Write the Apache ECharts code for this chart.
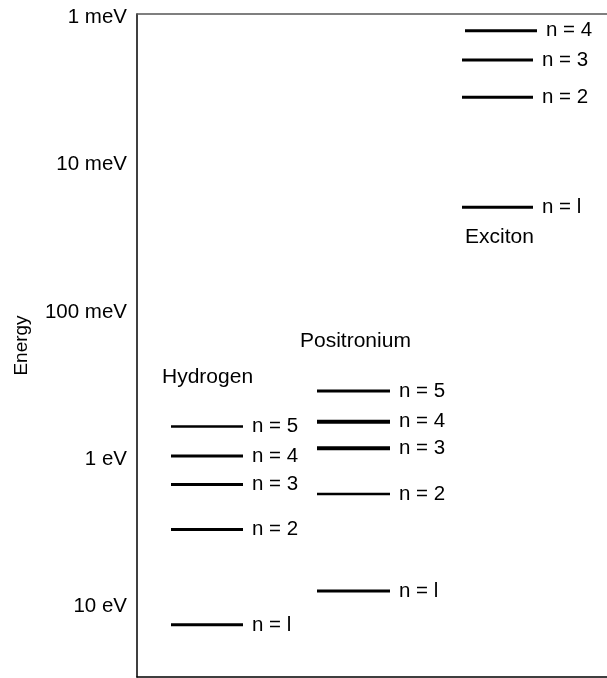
<!DOCTYPE html>
<html>
<head>
<meta charset="utf-8">
<script src="https://cdn.jsdelivr.net/npm/echarts@6/dist/echarts.min.js"></script>
<style>
html,body{margin:0;padding:0;background:#fff;}
#chart{width:607px;height:678px;}
</style>
</head>
<body>
<div id="chart"></div>
<script>
// Tick labels for the decades 1 meV .. 10 eV
const tickLabels = ['1 meV', '10 meV', '100 meV', '1 eV', '10 eV'];
const tickDecades = [-3, -2, -1, 0, 1];

// Energy levels (eV)
const hydrogenLabels = ['n = l', 'n = 2', 'n = 3', 'n = 4', 'n = 5'];
const hydrogenEnergy = [14.0, 3.15, 1.56, 1.00, 0.63];

const positroniumLabels = ['n = l', 'n = 2', 'n = 3', 'n = 4', 'n = 5'];
const positroniumEnergy = [8.25, 1.81, 0.887, 0.585, 0.362];

const excitonLabels = ['n = l', 'n = 2', 'n = 3', 'n = 4'];
const excitonEnergy = [0.0205, 0.00367, 0.00205, 0.0013];

// Layout (horizontal column placement, title placement, styles)
const FONT = '"Liberation Sans", Arial, Helvetica, sans-serif';
const groups = [
  { name: 'Hydrogen', labels: hydrogenLabels, energy: hydrogenEnergy,
    x: [34, 106], titleX: 25, titleE: 0.29, widths: [3, 3, 3, 3, 2.5], xs: null },
  { name: 'Positronium', labels: positroniumLabels, energy: positroniumEnergy,
    x: [180, 253], titleX: 163, titleE: 0.1675, widths: [3, 2.5, 4, 4, 3], xs: null },
  { name: 'Exciton', labels: excitonLabels, energy: excitonEnergy,
    x: [325, 396], titleX: 328, titleE: 0.0325, widths: [3, 3, 3, 3],
    xs: [null, null, null, [328, 400]] }
];

const series = [];
groups.forEach(g => {
  g.energy.forEach((e, i) => {
    const y = Math.log10(e);
    const xr = (g.xs && g.xs[i]) ? g.xs[i] : g.x;
    series.push({
      type: 'line',
      silent: true,
      symbol: 'none',
      animation: false,
      lineStyle: { color: '#000', width: g.widths[i] },
      endLabel: {
        show: true, distance: 9, formatter: g.labels[i],
        color: '#000', fontSize: 20.5, fontFamily: FONT
      },
      data: [[xr[0], y], [xr[1], y]]
    });
  });
  series.push({
    type: 'scatter',
    silent: true,
    symbolSize: 0,
    animation: false,
    itemStyle: { opacity: 1 },
    data: [[g.titleX, Math.log10(g.titleE)]],
    label: { show: true, position: 'right', distance: 0, formatter: g.name,
      color: '#000', opacity: 1, fontSize: 21, fontFamily: FONT }
  });
});

const chart = echarts.init(document.getElementById('chart'), null, { renderer: 'canvas' });
chart.setOption({
  backgroundColor: '#fff',
  animation: false,
  grid: { left: 137, right: 0, top: 14, bottom: 1, containLabel: false },
  xAxis: [
    { type: 'value', min: 0, max: 470, position: 'bottom',
      axisLine: { show: true, onZero: false, lineStyle: { color: '#000', width: 1.5 } },
      axisTick: { show: false }, axisLabel: { show: false }, splitLine: { show: false } },
    { type: 'value', min: 0, max: 470, position: 'top',
      axisLine: { show: true, onZero: false, lineStyle: { color: '#555', width: 1.5 } },
      axisTick: { show: false }, axisLabel: { show: false }, splitLine: { show: false } }
  ],
  yAxis: {
    type: 'value', inverse: true, min: -3, max: 1.5, interval: 1,
    name: 'Energy', nameLocation: 'middle', nameGap: 106, nameRotate: 90,
    nameTextStyle: { color: '#000', fontSize: 19, fontFamily: FONT },
    axisLine: { show: true, onZero: false, lineStyle: { color: '#000', width: 1.5 } },
    axisTick: { show: false },
    splitLine: { show: false },
    axisLabel: {
      color: '#000', fontSize: 20.5, fontFamily: FONT, margin: 10, showMaxLabel: false,
      verticalAlign: 'top', lineHeight: 7,
      formatter: v => {
        const k = tickDecades.indexOf(Math.round(v));
        return (Math.abs(v - Math.round(v)) < 1e-9 && k >= 0) ? tickLabels[k] : '';
      }
    }
  },
  series: series
});
</script>
</body>
</html>
